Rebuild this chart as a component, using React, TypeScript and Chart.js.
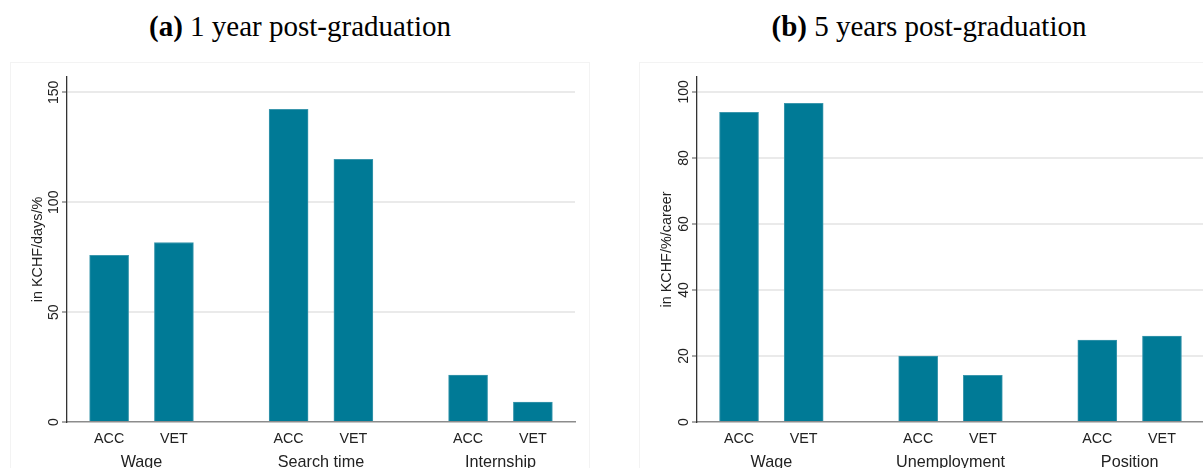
import React, { useEffect, useRef } from 'react';
import { Chart, registerables } from 'chart.js';

Chart.register(...registerables);

// ---- Data ----
const subLabels = ['ACC', 'VET'];

const groupsA = ['Wage', 'Search time', 'Internship'];
const accA = [75.9, 142.3, 21.4];
const vetA = [81.7, 119.5, 9.1];
const yTicksA = [0, 50, 100, 150];
const yMaxA = 157;
const yTitleA = 'in KCHF/days/%';

const groupsB = ['Wage', 'Unemployment', 'Position'];
const accB = [93.8, 20.0, 24.8];
const vetB = [96.5, 14.1, 26.0];
const yTicksB = [0, 20, 40, 60, 80, 100];
const yMaxB = 104.5;
const yTitleB = 'in KCHF/%/career';

// ---- Layout constants ----
const GROUP_STEP = 2.77;
const X_MIN = -0.65;
const X_MAX = 2 * GROUP_STEP + 1 + 0.65;
const BAR_COLOR = '#007a96';
const FONT = '"Liberation Sans", Arial, sans-serif';

type PanelProps = {
  groups: string[];
  acc: number[];
  vet: number[];
  yTicks: number[];
  yMax: number;
  yTitle: string;
  left: number;
  yWidth: number;
};

function Panel({ groups, acc, vet, yTicks, yMax, yTitle, left, yWidth }: PanelProps) {
  const ref = useRef<HTMLCanvasElement | null>(null);

  useEffect(() => {
    if (!ref.current) return;
    const points: { x: number; y: number }[] = [];
    const positions: number[] = [];
    const labels: string[] = [];
    groups.forEach((g, gi) => {
      [acc[gi], vet[gi]].forEach((v, si) => {
        const x = gi * GROUP_STEP + si;
        points.push({ x, y: v });
        positions.push(x);
        labels.push(subLabels[si]);
      });
    });
    const groupCenters = groups.map((_, gi) => gi * GROUP_STEP + 0.5);

    const chart = new Chart(ref.current, {
      type: 'bar',
      data: {
        datasets: [
          {
            data: points as any,
            backgroundColor: BAR_COLOR,
            borderColor: '#3b97ad',
            borderWidth: 1,
            barThickness: 39,
          },
        ],
      },
      options: {
        animation: false,
        responsive: false,
        maintainAspectRatio: false,
        layout: { padding: { top: 15, right: 15, left: 0, bottom: 0 } },
        plugins: { legend: { display: false }, tooltip: { enabled: false } },
        scales: {
          x: {
            type: 'linear',
            min: X_MIN,
            max: X_MAX,
            offset: false,
            position: 'bottom',
            weight: 0,
            afterBuildTicks: (s: any) => {
              s.ticks = positions.map((v) => ({ value: v }));
            },
            afterFit: (s: any) => {
              s.height = 23;
            },
            ticks: {
              autoSkip: false,
              maxRotation: 0,
              minRotation: 0,
              padding: 8,
              color: '#222',
              font: { family: FONT, size: 14.3 },
              callback: (_v: any, i: number) => labels[i],
            },
            grid: { display: false, drawTicks: false, offset: false },
            border: { display: true, color: '#8c8c8c', width: 1.5 },
          },
          xg: {
            type: 'linear',
            min: X_MIN,
            max: X_MAX,
            offset: false,
            position: 'bottom',
            weight: 1,
            afterBuildTicks: (s: any) => {
              s.ticks = groupCenters.map((v) => ({ value: v }));
            },
            afterFit: (s: any) => {
              s.height = 37;
            },
            ticks: {
              autoSkip: false,
              maxRotation: 0,
              minRotation: 0,
              padding: 7.5,
              color: '#222',
              font: { family: FONT, size: 16.2 },
              callback: (_v: any, i: number) => groups[i],
            },
            grid: { display: false, drawTicks: false, offset: false },
            border: { display: false },
          },
          y: {
            type: 'linear',
            min: 0,
            max: yMax,
            afterBuildTicks: (s: any) => {
              s.ticks = yTicks.map((v) => ({ value: v }));
            },
            afterFit: (s: any) => {
              s.width = yWidth;
            },
            ticks: {
              minRotation: 90,
              maxRotation: 90,
              crossAlign: 'center',
              padding: -3.5,
              color: '#222',
              font: { family: FONT, size: 14 },
            },
            grid: {
              color: (ctx: any) => (ctx.tick && ctx.tick.value === 0 ? 'rgba(0,0,0,0)' : '#eaeaea'),
              lineWidth: 2,
              drawTicks: true,
              tickLength: 5,
              tickColor: '#8c8c8c',
              tickWidth: 1.5,
            },
            border: { display: true, color: '#333', width: 1.3 },
            title: {
              display: true,
              text: yTitle,
              color: '#222',
              font: { family: FONT, size: 14.4 },
              padding: { top: 19, bottom: 0 },
            },
          },
        } as any,
      },
    });
    return () => chart.destroy();
  }, []);

  return (
    <>
      <div
        style={{
          position: 'absolute',
          left,
          top: 62,
          width: 580,
          height: 420,
          border: '1px solid #f3f3f3',
          boxSizing: 'border-box',
        }}
      />
      <canvas
        ref={ref}
        width={580}
        height={420}
        style={{ position: 'absolute', left, top: 62, width: 580, height: 420 }}
      />
    </>
  );
}

const titleStyle: React.CSSProperties = {
  position: 'absolute',
  top: 12,
  width: 580,
  textAlign: 'center',
  fontFamily: '"Liberation Serif", "Times New Roman", serif',
  fontSize: 29,
  lineHeight: '29px',
  color: '#000',
  whiteSpace: 'nowrap',
};

export default function App() {
  return (
    <div
      style={{
        position: 'absolute',
        left: 0,
        top: 0,
        width: 1203,
        height: 468,
        overflow: 'hidden',
        background: '#fff',
      }}
    >
      <div style={{ ...titleStyle, left: 10 }}>
        <b>(a)</b> 1 year post-graduation
      </div>
      <div style={{ ...titleStyle, left: 639 }}>
        <b>(b)</b> 5 years post-graduation
      </div>
      <Panel
        groups={groupsA}
        acc={accA}
        vet={vetA}
        yTicks={yTicksA}
        yMax={yMaxA}
        yTitle={yTitleA}
        left={10}
        yWidth={57}
      />
      <Panel
        groups={groupsB}
        acc={accB}
        vet={vetB}
        yTicks={yTicksB}
        yMax={yMaxB}
        yTitle={yTitleB}
        left={639}
        yWidth={58}
      />
    </div>
  );
}
